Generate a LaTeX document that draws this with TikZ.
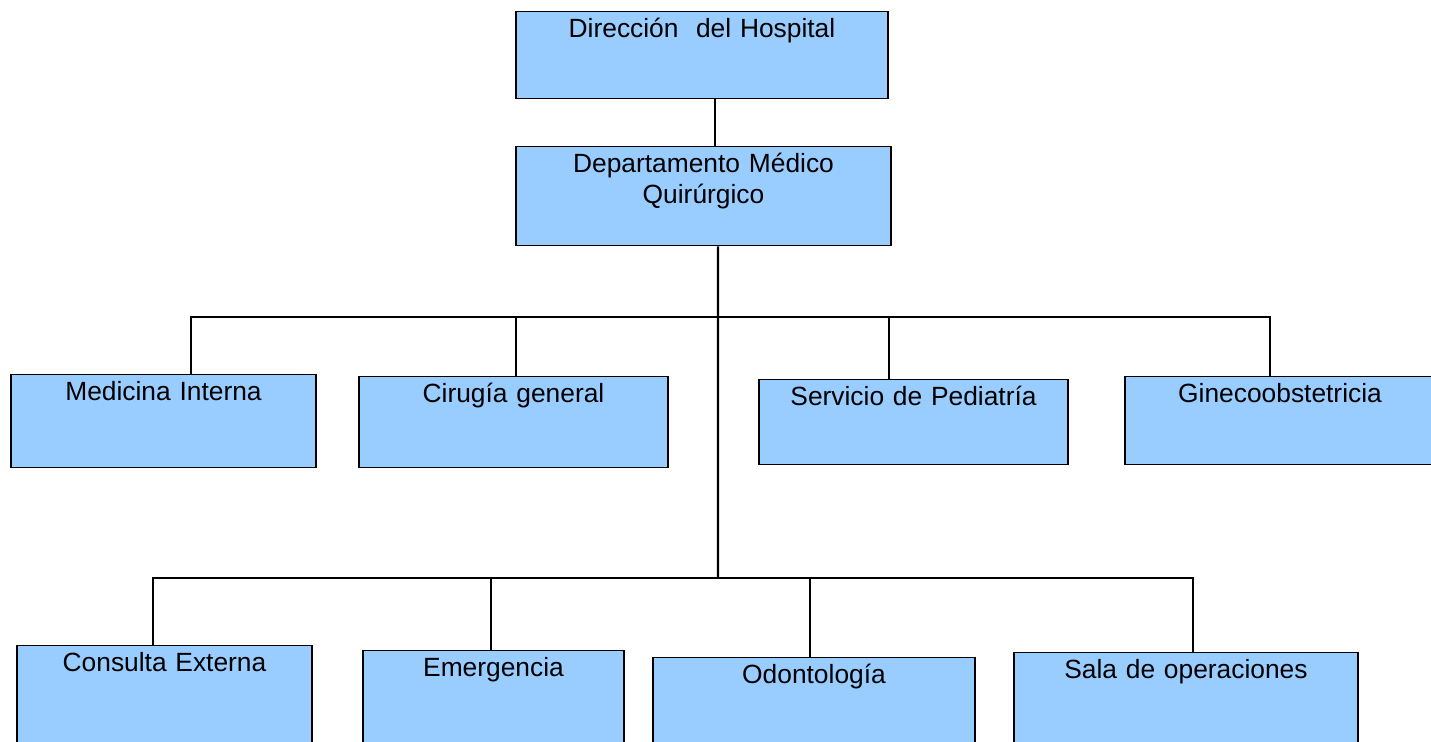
\documentclass[tikz,border=0pt]{standalone}
\usepackage{fontspec}
\setmainfont{Liberation Sans}
\usetikzlibrary{positioning}
\definecolor{unitblue}{RGB}{153,204,255}
\begin{document}
\begin{tikzpicture}
[ unit/.style 2 args={rectangle,draw,fill=unitblue,anchor=north,inner xsep=0pt,inner ysep=0pt,text width=#1,text height=0.26cm,text depth=#2,align=center,font=\fontsize{7.5}{8.8}\selectfont},
  link/.style={-,semithick}]

	\useasboundingbox (0,0) rectangle (14.31,-7.42);

	\node[unit={3.72cm}{0.61cm}] (direction) at (7.02,-0.11) {Dirección\ \ del Hospital};
	\node[unit={3.75cm}{0.73cm}] (department) at (7.035,-1.46) {Departamento Médico\\Quirúrgico};

	\node[unit={3.05cm}{0.67cm}] (internal) at (1.635,-3.74) {Medicina Interna};
	\node[unit={3.09cm}{0.65cm}] (surgery) at (5.135,-3.76) {Cirugía general};
	\node[unit={3.09cm}{0.59cm}] (pediatrics) at (9.135,-3.79) {Servicio de Pediatría};
	\node[unit={3.10cm}{0.62cm}] (gynecology) at (12.80,-3.76) {Ginecoobstetricia};

	\node[unit={2.95cm}{1.10cm}] (outpatient) at (1.645,-6.45) {Consulta Externa};
	\node[unit={2.61cm}{1.10cm}] (emergency) at (4.935,-6.50) {Emergencia};
	\node[unit={3.22cm}{1.00cm}] (dentistry) at (8.14,-6.57) {Odontología};
	\node[unit={3.44cm}{1.10cm}] (theatre) at (11.86,-6.52) {Sala de operaciones};

	\coordinate (upper hub) at (7.18,-3.17);
	\coordinate (lower hub) at (7.18,-5.78);

	\draw[link] ([xshift=1.3mm]direction.south) -- ([xshift=1.3mm]direction.south |- department.north);
	\draw[link] ([xshift=1.45mm]department.south) -- (lower hub);

	\draw[link] (upper hub) -| ([xshift=2.75mm]internal.north);
	\draw[link] (upper hub) -| ([xshift=0.25mm]surgery.north);
	\draw[link] (upper hub) -| ([xshift=-2.45mm]pediatrics.north);
	\draw[link] (upper hub) -| ([xshift=-1mm]gynecology.north);

	\draw[link] (lower hub) -| ([xshift=-1.15mm]outpatient.north);
	\draw[link] (lower hub) -| ([xshift=-0.25mm]emergency.north);
	\draw[link] (lower hub) -| ([xshift=-0.4mm]dentistry.north);
	\draw[link] (lower hub) -| ([xshift=0.7mm]theatre.north);
\end{tikzpicture}
\end{document}
